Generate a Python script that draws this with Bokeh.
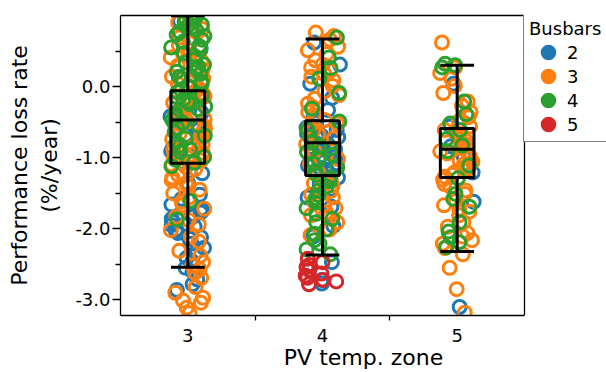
from bokeh.plotting import figure
from bokeh.models import (Range1d, FixedTicker, PrintfTickFormatter, Legend, LegendItem,
                          ColumnDataSource, LinearAxis, Span)
from bokeh.transform import jitter
from bokeh.embed import file_html
from bokeh.resources import INLINE

zones = ["3", "4", "5"]
busbars = ["2", "3", "4", "5"]
colors = ["#1f77b4", "#ff7f0e", "#2ca02c", "#d62728"]

# Performance loss rate (%/year) per PV temp. zone and busbar count
z3_b2 = [0.92, 0.55, 0.12, -0.22, -0.37, -0.52, -0.61, -0.77, -0.86, -0.97, -1.06,
         -1.22, -1.36, -1.52, -1.58, -1.66, -1.71, -1.77, -1.8, -1.86, -1.9, -1.93,
         -1.97, -2.01, -2.06, -2.12, -2.14, -2.21, -2.27, -2.33, -2.41, -2.46, -2.55,
         -2.6, -2.71, -2.78, -2.86, -0.42, -0.68, -0.91, -1.74, -1.83, -1.95, -2.03,
         -0.31, -0.58]
z3_b3 = [0.9, 0.81, 0.69, 0.62, 0.51, 0.44, 0.36, 0.29, 0.21, 0.14, 0.11, 0.04,
         -0.02, -0.06, -0.11, -0.17, -0.19, -0.26, -0.31, -0.34, -0.41, -0.46, -0.49,
         -0.56, -0.6, -0.66, -0.71, -0.74, -0.81, -0.86, -0.89, -0.96, -1.01, -1.04,
         -1.1, -1.16, -1.2, -1.24, -1.32, -1.41, -1.5, -1.56, -1.62, -1.72, -1.83,
         -1.88, -2.02, -2.11, -2.18, -2.31, -2.38, -2.47, -2.52, -2.57, -2.62, -2.69,
         -2.82, -2.9, -2.97, -3.01, -3.04, -3.11, -3.19, 0.76, 0.58, 0.41, 0.24,
         0.07, -0.09, -0.23, -0.38, -0.53, -0.63, -0.79, -0.93, -1.13, -1.28, -1.45,
         -0.14, -0.44, -0.69, -0.84, -1.07, -1.36, -1.67, -1.94]
z3_b4 = [0.98, 0.94, 0.87, 0.83, 0.77, 0.71, 0.63, 0.57, 0.52, 0.43, 0.38, 0.31,
         0.25, 0.18, 0.11, 0.07, 0.01, -0.05, -0.08, -0.15, -0.21, -0.25, -0.32,
         -0.37, -0.44, -0.51, -0.55, -0.64, -0.69, -0.78, -0.83, -0.92, -0.99, -1.07,
         -1.12, -1.61, -1.87, 1.03, 1.06, 0.91, 0.85, 0.73, 0.66, 0.47, 0.34, 0.21,
         0.14, -0.02, -0.12, -0.28, -0.41, -0.58, -0.73, -0.88, -1.03, 0.96, 0.8,
         0.55, 0.28, 0.04, -0.18, -0.47]
z3_b5 = []
z4_b2 = [0.62, 0.31, 0.04, -0.16, -0.33, -0.44, -0.51, -0.56, -0.61, -0.66, -0.69,
         -0.73, -0.78, -0.81, -0.86, -0.9, -0.94, -0.98, -1.01, -1.06, -1.11, -1.14,
         -1.21, -1.26, -1.31, -1.37, -1.44, -1.56, -1.69, -1.96, -2.11, -2.47, -2.72,
         -2.77, -0.58, -0.71, -0.83, -0.92, -1.03, -1.17, -1.28, -0.64, -0.88, -1.08]
z4_b3 = [0.76, 0.71, 0.66, 0.56, 0.46, 0.37, 0.31, 0.22, 0.14, 0.09, 0.01, -0.07,
         -0.17, -0.24, -0.36, -0.41, -0.52, -0.57, -0.67, -0.73, -0.81, -0.91, -1.02,
         -1.09, -1.21, -1.31, -1.39, -1.47, -1.56, -1.61, -1.71, -1.77, -1.84, -1.91,
         -2.01, -2.09, 0.51, 0.27, 0.18, -0.12, -0.29, -1.36, -1.52, -1.66, -1.81,
         -0.47, -0.62]
z4_b4 = [0.69, 0.11, -0.09, -0.31, -0.49, -0.61, -0.71, -0.79, -0.87, -0.96, -1.03,
         -1.09, -1.19, -1.24, -1.33, -1.41, -1.47, -1.57, -1.63, -1.71, -1.79, -1.91,
         -2.01, -2.07, -2.16, -2.21, -2.29, -2.36, 0.41, 0.26, -0.83, -0.92, -1.14,
         -1.29, -1.53, -1.86]
z4_b5 = [-2.42, -2.47, -2.51, -2.54, -2.58, -2.63, -2.66, -2.69, -2.72, -2.74, -2.78]
z5_b2 = [0.04, -0.56, -0.84, -0.99, -1.21, -1.62, -3.1]
z5_b3 = [0.62, 0.27, 0.19, 0.11, 0.01, -0.09, -0.21, -0.27, -0.36, -0.43, -0.49,
         -0.56, -0.61, -0.64, -0.71, -0.76, -0.79, -0.86, -0.91, -0.94, -1.01, -1.06,
         -1.09, -1.16, -1.21, -1.24, -1.31, -1.37, -1.46, -1.51, -1.61, -1.67, -1.76,
         -1.81, -1.91, -1.97, -2.06, -2.11, -2.21, -2.27, -2.36, -2.55, -2.85, -3.18,
         -0.67, -0.82, -0.97, -1.12, -1.27, -0.74, -1.04, -1.41, -1.72, -2.16]
z5_b4 = [0.32, 0.3, 0.27, -0.21, -0.39, -0.61, -0.74, -0.91, -1.11, -1.29, -1.51,
         -1.69, -1.91, -2.04, -2.19, -2.26, -0.52, -0.83, -1.58, -2.12]
z5_b5 = []

points = {
    "3": [z3_b2, z3_b3, z3_b4, z3_b5],
    "4": [z4_b2, z4_b3, z4_b4, z4_b5],
    "5": [z5_b2, z5_b3, z5_b4, z5_b5],
}

# box-plot statistics per zone
box_lower = [-2.54, -2.37, -2.32]
box_q1 = [-1.08, -1.25, -1.28]
box_median = [-0.47, -0.79, -0.88]
box_q3 = [-0.06, -0.48, -0.59]
box_upper = [0.995, 0.67, 0.30]

y_ticks = [-3.0, -2.0, -1.0, 0.0]
y_minor = [-2.5, -1.5, -0.5, 0.5]

FONT = "DejaVu Sans"

# layout (screen pixels)
W, H = 606, 372
FRAME_L, FRAME_T, FRAME_B = 120, 15, 317
AXES_R = 524          # right edge of the plotting area; legend sits beyond it

n = len(zones)
xpos = [i + 0.5 for i in range(n)]
x_end = n * (W - FRAME_L) / (AXES_R - FRAME_L)

p = figure(width=W, height=H, output_backend="svg", toolbar_location=None,
           x_range=Range1d(0, x_end), y_range=Range1d(-3.22, 1.0),
           x_axis_location=None, y_axis_location=None,
           min_border_left=FRAME_L, min_border_right=0, min_border_top=FRAME_T,
           min_border_bottom=H - FRAME_B)
p.grid.visible = False
p.outline_line_color = None

legend_items = []
for bi, (bb, col) in enumerate(zip(busbars, colors)):
    xs, ys = [], []
    for zi, z in enumerate(zones):
        vals = points[z][bi]
        xs += [xpos[zi]] * len(vals)
        ys += vals
    src = ColumnDataSource(dict(x=xs, y=ys))
    p.scatter(x=jitter("x", width=0.26, distribution="uniform"), y="y", source=src,
              marker="circle", size=13, line_width=3, line_color=col, fill_color=None)
    # hidden renderer that only supplies the filled legend marker
    key = p.scatter(x=xpos[:1], y=box_median[:1], marker="circle", size=10, line_width=6,
                    line_color=col, fill_color=col, visible=False)
    legend_items.append(LegendItem(label=bb, renderers=[key]))

bw = 0.25
left = [x - bw / 2 for x in xpos]
right = [x + bw / 2 for x in xpos]
p.segment(x0=xpos, x1=xpos, y0=box_q3, y1=box_upper, line_color="black", line_width=3)
p.segment(x0=xpos, x1=xpos, y0=box_lower, y1=box_q1, line_color="black", line_width=3)
p.segment(x0=left, x1=right, y0=box_upper, y1=box_upper, line_color="black", line_width=3)
p.segment(x0=left, x1=right, y0=box_lower, y1=box_lower, line_color="black", line_width=3)
p.quad(left=left, right=right, top=box_q3, bottom=box_q1, fill_color=None,
       line_color="black", line_width=3)
p.segment(x0=left, x1=right, y0=box_median, y1=box_median, line_color="black", line_width=3)

# bottom axis
xaxis = LinearAxis(bounds=(0, n),
                   ticker=FixedTicker(ticks=xpos, minor_ticks=list(range(1, n))),
                   major_label_overrides={x: z for x, z in zip(xpos, zones)},
                   major_tick_line_color=None, major_tick_out=0, major_tick_in=0,
                   minor_tick_out=5, minor_tick_in=0, major_label_standoff=8,
                   axis_label="PV temp. zone", axis_label_standoff=0)
# left axis
yaxis = LinearAxis(ticker=FixedTicker(ticks=y_ticks, minor_ticks=y_minor),
                   formatter=PrintfTickFormatter(format="%.1f"),
                   major_tick_out=8, major_tick_in=0, minor_tick_out=5, minor_tick_in=0,
                   major_label_standoff=2, major_tick_line_color="black",
                   axis_label="Performance loss rate\n(%/year)", axis_label_standoff=10)
for ax in (xaxis, yaxis):
    ax.axis_line_color = "black"
    ax.axis_line_width = 1.3
    ax.major_tick_line_width = 1.3
    ax.minor_tick_line_width = 1.3
    ax.minor_tick_line_color = "black"
    ax.major_label_text_font = FONT
    ax.major_label_text_font_size = "18px"
    ax.major_label_text_color = "black"
    ax.axis_label_text_font = FONT
    ax.axis_label_text_font_size = "22px"
    ax.axis_label_text_font_style = "normal"
    ax.axis_label_text_color = "black"
p.add_layout(xaxis, "below")
p.add_layout(yaxis, "left")

# frame: top border and right border of the axes box
top_axis = LinearAxis(ticker=FixedTicker(ticks=[]), bounds=(0, n),
                      major_label_text_font_size="0px", axis_line_color="black",
                      axis_line_width=1.3, major_tick_out=0, major_tick_in=0,
                      minor_tick_out=0, minor_tick_in=0, major_label_standoff=0)
p.add_layout(top_axis, "above")
p.add_layout(Span(location=n, dimension="height", line_color="black", line_width=1.3))

legend = Legend(items=legend_items, title="Busbars", location=(AXES_R - FRAME_L - 1, 173),
                glyph_width=38, glyph_height=24, label_standoff=0, spacing=0,
                padding=5, margin=0, title_standoff=1,
                border_line_color="black", border_line_width=1.5,
                inactive_fill_alpha=0.0,
                label_text_font=FONT, label_text_font_size="18px", label_text_color="black",
                title_text_font=FONT, title_text_font_size="18px", title_text_color="black",
                title_text_font_style="normal", background_fill_alpha=1.0)
p.add_layout(legend, "center")

open("out.html", "w").write(file_html(p, INLINE))
